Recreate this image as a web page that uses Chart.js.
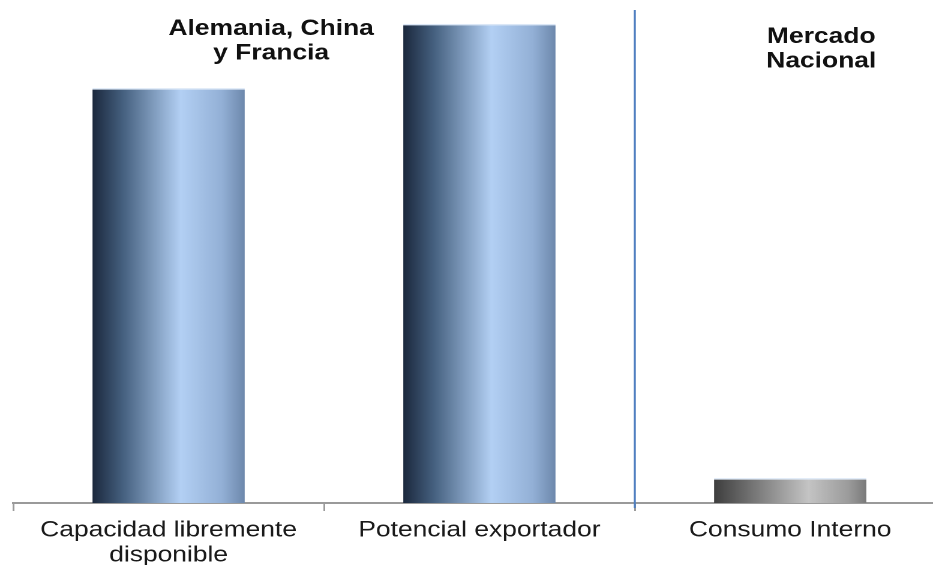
<!DOCTYPE html>
<html>
<head>
<meta charset="utf-8">
<script src="https://cdn.jsdelivr.net/npm/chart.js@4"></script>
<style>
    html, body { margin: 0; padding: 0; background: #fff; overflow: hidden; }
    #wrap { width: 933px; height: 565px; overflow: hidden; }
    /* the source image is stretched horizontally, so the chart is too */
    #lienzo { width: 788px; height: 565px; transform: scaleX(1.2); transform-origin: 0 0; }
</style>
</head>
<body>
<div id="wrap"><div id="lienzo"><canvas id="grafico" width="788" height="565"></canvas></div></div>
<script>
const categorias = [['Capacidad libremente', 'disponible'], 'Potencial exportador', 'Consumo Interno'];
const valores = [86.6, 100, 5.2];
const tipoBarra = ['azul', 'azul', 'gris'];
const grupos = [['Alemania, China', 'y Francia'], ['Mercado', 'Nacional']];
const ejeYMax = 102.9;
const anchoBarra = 0.49;

const paradas = {
    azul: [[0, '#1b283d'], [0.2, '#45607f'], [0.58, '#b3d0f4'], [0.85, '#93b0d6'], [1, '#6d88ac']],
    gris: [[0, '#3e3e3e'], [0.25, '#747474'], [0.62, '#c4c4c4'], [0.88, '#9c9c9c'], [1, '#7a7a7a']]
};

function colorBarra(context) {
    const chart = context.chart;
    const xs = chart.scales.x;
    const tipo = tipoBarra[context.dataIndex] || 'azul';
    if (!xs || !chart.chartArea) return paradas[tipo][2][1];
    const centro = xs.getPixelForValue(context.dataIndex);
    const half = (xs.width / categorias.length) * anchoBarra / 2;
    const g = chart.ctx.createLinearGradient(centro - half, 0, centro + half, 0);
    paradas[tipo].forEach(p => g.addColorStop(p[0], p[1]));
    return g;
}

const separadorPlugin = {
    id: 'separador',
    afterDraw(chart) {
        const ctx = chart.ctx;
        const x = chart.scales.x;
        const area = chart.chartArea;
        const c0 = x.getPixelForValue(0);
        const c1 = x.getPixelForValue(1);
        const c2 = x.getPixelForValue(2);
        const sep = (c1 + c2) / 2;

        ctx.save();
        ctx.strokeStyle = '#4f7fc0';
        ctx.lineWidth = 1.7;
        ctx.beginPath();
        ctx.moveTo(sep, area.top);
        ctx.lineTo(sep, area.bottom + 5);
        ctx.stroke();

        ctx.fillStyle = '#111';
        ctx.font = 'bold 22px "Liberation Sans", Arial, sans-serif';
        ctx.textAlign = 'center';
        ctx.textBaseline = 'middle';
        const pos = [
            { x: c0 + (c1 - c0) * 0.33, y: 29 },
            { x: c2 + (c2 - c1) * 0.1, y: 37 }
        ];
        grupos.forEach((lineas, i) => {
            lineas.forEach((t, j) => ctx.fillText(t, pos[i].x, pos[i].y + j * 24.5));
        });
        ctx.restore();
    }
};

new Chart(document.getElementById('grafico'), {
    type: 'bar',
    data: {
        labels: categorias,
        datasets: [{
            data: valores,
            backgroundColor: colorBarra,
            borderColor: 'rgba(215,228,245,0.9)',
            borderWidth: { top: 1.5, left: 0, right: 0, bottom: 0 },
            borderSkipped: 'bottom',
            categoryPercentage: 1,
            barPercentage: anchoBarra
        }]
    },
    options: {
        responsive: false,
        animation: false,
        devicePixelRatio: 2,
        layout: { padding: { left: 11, right: 0, top: 10, bottom: 0 } },
        plugins: {
            legend: { display: false },
            tooltip: { enabled: false }
        },
        scales: {
            x: {
                afterFit: (scale) => { scale.height = 62; },
                grid: {
                    drawOnChartArea: false,
                    drawTicks: true,
                    tickLength: 8,
                    color: '#9a9a9a',
                    lineWidth: 1.5,
                    offset: true
                },
                border: { color: '#9a9a9a', width: 2 },
                ticks: {
                    color: '#1a1a1a',
                    padding: 7,
                    maxRotation: 0,
                    autoSkip: false,
                    font: { family: '"Liberation Sans", Arial, sans-serif', size: 22, lineHeight: 1.14 }
                }
            },
            y: {
                display: false,
                min: 0,
                max: ejeYMax
            }
        }
    },
    plugins: [separadorPlugin]
});
</script>
</body>
</html>
